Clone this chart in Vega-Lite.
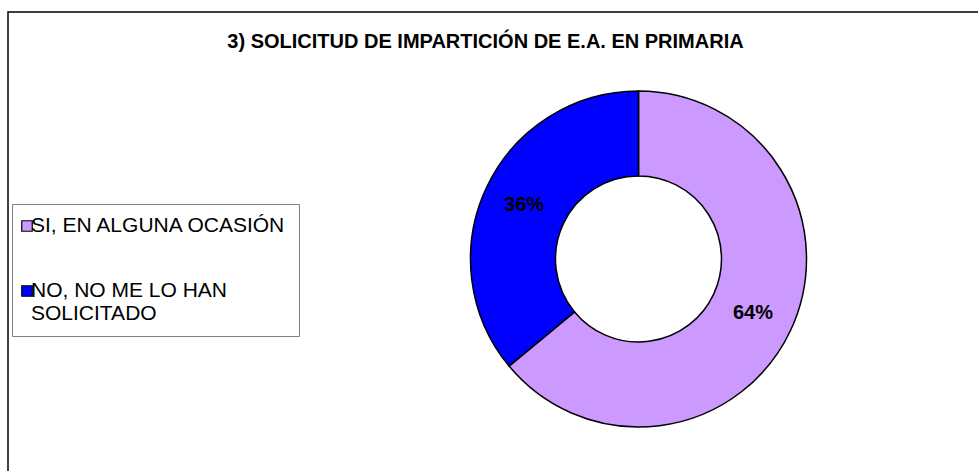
{
  "$schema": "https://vega.github.io/schema/vega-lite/v6.json",
  "width": 1261,
  "height": 494,
  "autosize": {"type": "none"},
  "padding": {"left": 8, "top": 12, "right": -291, "bottom": -35},
  "background": "white",
  "view": {"stroke": "black", "strokeWidth": 1.5, "fill": "white"},
  "config": {
    "view": {"stroke": "black", "strokeWidth": 1.5},
    "font": "Liberation Sans"
  },
  "title": {
    "text": "3) SOLICITUD DE IMPARTICIÓN DE E.A. EN PRIMARIA",
    "fontSize": 20,
    "font": "Liberation Sans",
    "fontWeight": "bold",
    "anchor": "middle",
    "frame": "group",
    "dx": -153,
    "offset": -40,
    "color": "black"
  },
  "data": {
    "values": [
      {"categoria": "SI, EN ALGUNA OCASIÓN", "porcentaje": 64, "etiqueta": "64%", "orden": 1},
      {"categoria": "NO, NO ME LO HAN SOLICITADO", "porcentaje": 36, "etiqueta": "36%", "orden": 2}
    ]
  },
  "encoding": {
    "theta": {"field": "porcentaje", "type": "quantitative", "stack": true},
    "order": {"field": "orden", "type": "quantitative"}
  },
  "layer": [
    {
      "mark": {"type": "arc", "outerRadius": 168, "innerRadius": 83, "stroke": "black", "strokeWidth": 1.5},
      "encoding": {
        "color": {
          "field": "categoria",
          "type": "nominal",
          "scale": {
            "domain": ["SI, EN ALGUNA OCASIÓN", "NO, NO ME LO HAN SOLICITADO"],
            "range": ["#CC99FF", "#0000FF"]
          },
          "legend": {
            "orient": "none",
            "legendX": 4,
            "legendY": 192,
            "title": null,
            "strokeColor": "#808080",
            "fillColor": "white",
            "padding": 11.5,
            "symbolType": "square",
            "symbolSize": 110,
            "symbolStrokeColor": "black",
            "symbolStrokeWidth": 1.2,
            "symbolOffset": -7,
            "labelFontSize": 21,
            "labelFont": "Liberation Sans",
            "labelColor": "black",
            "labelOffset": -6.5,
            "labelLimit": 400,
            "rowPadding": 43,
            "labelExpr": "datum.label == 'NO, NO ME LO HAN SOLICITADO' ? ['NO, NO ME LO HAN', 'SOLICITADO'] : datum.label"
          }
        }
      }
    },
    {
      "mark": {"type": "text", "radius": 126.5, "fontSize": 20, "fontWeight": "bold", "font": "Liberation Sans", "color": "black"},
      "encoding": {
        "detail": {"field": "categoria", "type": "nominal"},
        "text": {"field": "etiqueta", "type": "nominal"}
      }
    }
  ]
}
